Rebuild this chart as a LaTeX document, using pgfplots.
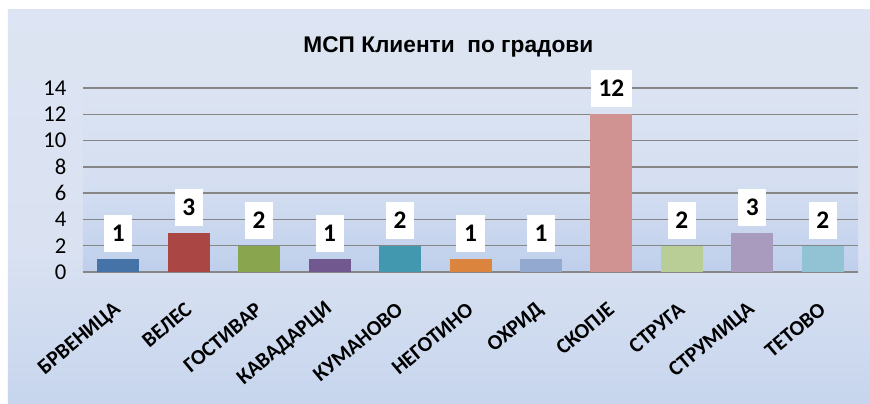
\documentclass[border=0pt]{standalone}
\usepackage{fontspec}
\setmainfont{Carlito}
\newfontfamily\titlefont{Liberation Sans}
\usepackage{pgfplots}
\pgfplotsset{compat=1.18}
\definecolor{obot}{HTML}{D6DFF0}
\definecolor{oband}{HTML}{C2D2EC}
\definecolor{omid}{HTML}{DAE2F2}
\definecolor{otop}{HTML}{DFE6F3}
\definecolor{pbot}{HTML}{A8BFE6}
\definecolor{pmid}{HTML}{D5DFF1}
\definecolor{ptop}{HTML}{E2E8F4}
\definecolor{gridc}{HTML}{868686}
\definecolor{c1}{HTML}{4572A7}
\definecolor{c2}{HTML}{AA4643}
\definecolor{c3}{HTML}{89A54E}
\definecolor{c4}{HTML}{71588F}
\definecolor{c5}{HTML}{4198AF}
\definecolor{c6}{HTML}{DB843D}
\definecolor{c7}{HTML}{93A9CF}
\definecolor{c8}{HTML}{D19392}
\definecolor{c9}{HTML}{B9CD96}
\definecolor{c10}{HTML}{A99BBD}
\definecolor{c11}{HTML}{92C3D4}
\pgfdeclareverticalshading{outerbg}{100bp}{color(0bp)=(obot); color(20bp)=(oband); color(45bp)=(omid); color(100bp)=(otop)}
\pgfdeclareverticalshading{plotbg}{100bp}{color(0bp)=(pbot); color(50bp)=(pmid); color(100bp)=(ptop)}
\begin{document}
\begin{tikzpicture}
\path[use as bounding box] (-62.25pt,-98.25pt) rectangle (590.25pt,204pt);
\fill[white] (-62.25pt,-98.25pt) rectangle (590.25pt,204pt);
\shade[shading=outerbg] (-56.25pt,-98.25pt) rectangle (590.25pt,196.5pt);
\node at (274pt,168.75pt) {\titlefont\bfseries\fontsize{17}{17}\selectfont МСП Клиенти\ \ по градови};
\begin{axis}[
  at={(0pt,0pt)}, anchor=south west,
  scale only axis, width=581.25pt, height=138pt,
  xmin=-0.5, xmax=10.5, ymin=0, ymax=14,
  ytick={0,2,...,14}, xtick={0,...,10},
  xticklabels={БРВЕНИЦА,ВЕЛЕС,ГОСТИВАР,КАВАДАРЦИ,КУМАНОВО,НЕГОТИНО,ОХРИД,СКОПЈЕ,СТРУГА,СТРУМИЦА,ТЕТОВО},
  ymajorgrids, major grid style={draw=gridc, line width=1.1pt},
  axis line style={draw=none}, major tick length=0pt,
  axis background/.style={shade, shading=plotbg},
  /pgf/number format/assume math mode=true,
  yticklabel style={font=\fontsize{17}{17}\selectfont, xshift=-9pt},
  xticklabel style={font=\bfseries\fontsize{16}{16}\selectfont, inner sep=0pt, xshift=0pt, yshift=-26pt, rotate=40, anchor=east},
  ybar, bar width=31.5pt,
  nodes near coords,
  every node near coord/.append style={fill=white, font=\bfseries\fontsize{19}{19}\selectfont, inner xsep=5.7pt, inner ysep=7.8pt, text height=12.2pt, text depth=0pt, yshift=5pt},
  clip=false,
]
\addplot[fill=c1, draw=none, bar shift=0pt] coordinates {(0,1)};
\addplot[fill=c2, draw=none, bar shift=0pt] coordinates {(1,3)};
\addplot[fill=c3, draw=none, bar shift=0pt] coordinates {(2,2)};
\addplot[fill=c4, draw=none, bar shift=0pt] coordinates {(3,1)};
\addplot[fill=c5, draw=none, bar shift=0pt] coordinates {(4,2)};
\addplot[fill=c6, draw=none, bar shift=0pt] coordinates {(5,1)};
\addplot[fill=c7, draw=none, bar shift=0pt] coordinates {(6,1)};
\addplot[fill=c8, draw=none, bar shift=0pt] coordinates {(7,12)};
\addplot[fill=c9, draw=none, bar shift=0pt] coordinates {(8,2)};
\addplot[fill=c10, draw=none, bar shift=0pt] coordinates {(9,3)};
\addplot[fill=c11, draw=none, bar shift=0pt] coordinates {(10,2)};
\end{axis}
\end{tikzpicture}
\end{document}
